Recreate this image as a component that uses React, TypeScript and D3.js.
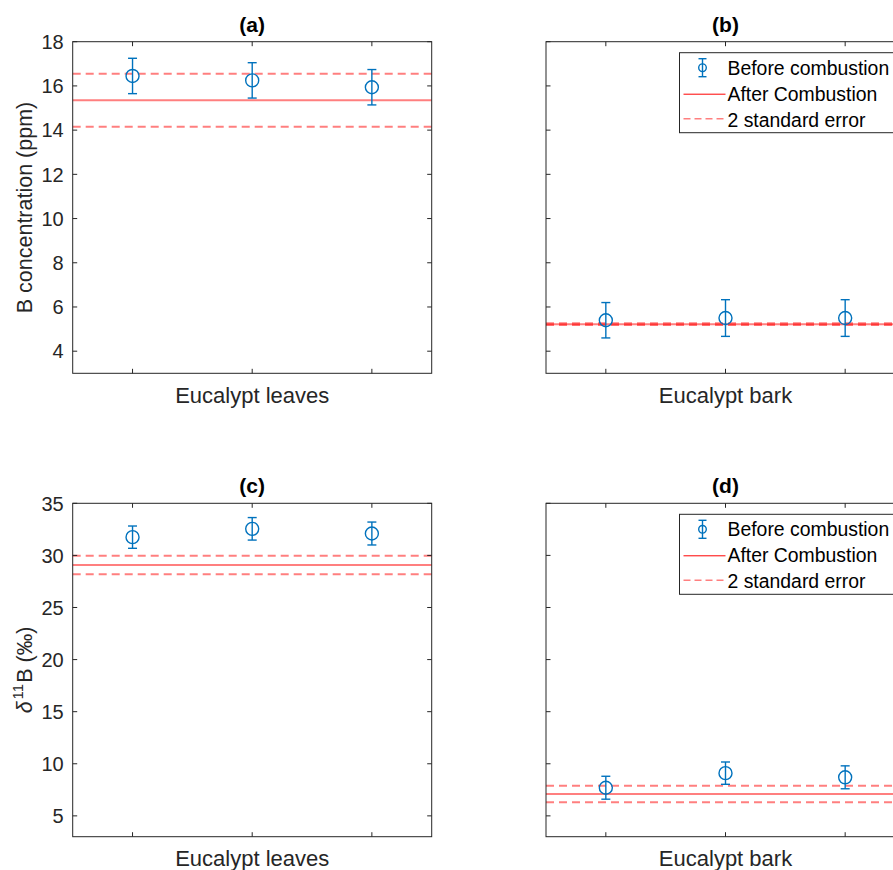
import React from 'react';
import * as d3 from 'd3';

// x positions of the three replicates
const reps = [1, 2, 3];

// (a) B concentration, eucalypt leaves
const leavesB = [16.45, 16.25, 15.94];
const leavesBErr = [0.8, 0.8, 0.8];
const leavesBAfter = 15.35;
const leavesBSE = 1.2;

// (b) B concentration, eucalypt bark
const barkB = [5.4, 5.5, 5.5];
const barkBErr = [0.8, 0.83, 0.83];
const barkBAfter = 5.22;
const barkBSE = 0.04;

// (c) delta11B, eucalypt leaves
const leavesD = [31.75, 32.55, 32.1];
const leavesDErr = [1.07, 1.08, 1.1];
const leavesDAfter = 29.08;
const leavesDSE = 0.89;

// (d) delta11B, eucalypt bark
const barkD = [7.7, 9.1, 8.7];
const barkDErr = [1.1, 1.07, 1.1];
const barkDAfter = 7.1;
const barkDSE = 0.8;

const bTicks = [4, 6, 8, 10, 12, 14, 16, 18];
const dTicks = [5, 10, 15, 20, 25, 30, 35];
const legendLabels = ['Before combustion', 'After Combustion', '2 standard error'];

const FONT = '"Liberation Sans", Arial, Helvetica, sans-serif';
const INK = '#262626';
const BLUE = '#0072BD';

type PanelProps = {
  left: number; top: number; width: number; height: number;
  title: string; xlabel: string;
  domain: [number, number]; ticks: number[]; showTickLabels: boolean;
  vals: number[]; errs: number[]; after: number; se: number;
  legend: boolean; ylabel?: React.ReactNode;
};

const Panel = (p: PanelProps) => {
  const x = d3.scaleLinear().domain([0.5, 3.5]).range([p.left, p.left + p.width]);
  const y = d3.scaleLinear().domain(p.domain).range([p.top + p.height, p.top]);
  const x0 = x(0.5), x1 = x(3.5);
  const tk = 4.5;
  const lx = p.left + 133.5, ly = p.top + 11;
  return (
    <g>
      {/* red reference lines */}
      <line x1={x0} x2={x1} y1={y(p.after)} y2={y(p.after)} stroke="#ff0000" strokeOpacity={0.5} strokeWidth={2} />
      {[p.after + p.se, p.after - p.se].map((v, i) => (
        <line key={i} x1={x0} x2={x1} y1={y(v)} y2={y(v)} stroke="#ff0000" strokeOpacity={0.5}
          strokeWidth={2} strokeDasharray="8,5" />
      ))}
      {/* error bars */}
      {reps.map((r, i) => (
        <g key={r} stroke={BLUE} fill="none" strokeWidth={1.4}>
          <line x1={x(r)} x2={x(r)} y1={y(p.vals[i] + p.errs[i])} y2={y(p.vals[i] - p.errs[i])} />
          <line x1={x(r) - 4.5} x2={x(r) + 4.5} y1={y(p.vals[i] + p.errs[i])} y2={y(p.vals[i] + p.errs[i])} />
          <line x1={x(r) - 4.5} x2={x(r) + 4.5} y1={y(p.vals[i] - p.errs[i])} y2={y(p.vals[i] - p.errs[i])} />
          <circle cx={x(r)} cy={y(p.vals[i])} r={6.5} />
        </g>
      ))}
      {/* box and ticks */}
      <rect x={x0} y={p.top} width={p.width} height={p.height} fill="none" stroke={INK} strokeWidth={1} />
      {p.ticks.map(t => (
        <g key={t}>
          <line x1={x0} x2={x0 + tk} y1={y(t)} y2={y(t)} stroke={INK} />
          <line x1={x1} x2={x1 - tk} y1={y(t)} y2={y(t)} stroke={INK} />
          {p.showTickLabels && (
            <text x={x0 - 9} y={y(t)} dy="0.36em" textAnchor="end" fontSize={20} fill={INK}>{t}</text>
          )}
        </g>
      ))}
      {reps.map(r => (
        <g key={r}>
          <line x1={x(r)} x2={x(r)} y1={p.top + p.height} y2={p.top + p.height - tk} stroke={INK} />
          <line x1={x(r)} x2={x(r)} y1={p.top} y2={p.top + tk} stroke={INK} />
        </g>
      ))}
      <text x={x(2)} y={p.top - 10} textAnchor="middle" fontSize={21} fontWeight="bold" fill="#000">{p.title}</text>
      <text x={x(2)} y={p.top + p.height + 29.5} textAnchor="middle" fontSize={22} fill={INK}>{p.xlabel}</text>
      {p.ylabel && (
        <text transform={`translate(32,${p.top + p.height / 2}) rotate(-90)`} textAnchor="middle" fontSize={21.5} fill={INK}>
          {p.ylabel}
        </text>
      )}
      {p.legend && (
        <g>
          <rect x={lx} y={ly} width={225} height={80} fill="#fff" stroke={INK} strokeWidth={1} />
          <g stroke={BLUE} fill="none" strokeWidth={1.4}>
            <line x1={lx + 23} x2={lx + 23} y1={ly + 6} y2={ly + 24} />
            <line x1={lx + 19} x2={lx + 27} y1={ly + 6} y2={ly + 6} />
            <line x1={lx + 19} x2={lx + 27} y1={ly + 24} y2={ly + 24} />
            <circle cx={lx + 23} cy={ly + 15} r={3.8} />
          </g>
          <line x1={lx + 4} x2={lx + 46} y1={ly + 41.5} y2={ly + 41.5} stroke="#ff0000" strokeWidth={1} />
          <line x1={lx + 4} x2={lx + 46} y1={ly + 66} y2={ly + 66} stroke="#ff0000" strokeOpacity={0.5}
            strokeWidth={1.5} strokeDasharray="7,4" />
          {legendLabels.map((l, i) => (
            <text key={l} x={lx + 48} y={ly + 15 + i * 26} dy="0.36em" fontSize={19.4} fill="#000">{l}</text>
          ))}
        </g>
      )}
    </g>
  );
};

const App = () => {
  const W = 359, H1 = 331.6, H2 = 333.4;
  const dLabel = (
    <>
      <tspan fontStyle="italic">δ</tspan>
      <tspan dy={-9} dx={2} fontSize={15}>11</tspan>
      <tspan dy={9} dx={1}>B (‰)</tspan>
    </>
  );
  return (
    <svg width={893} height={870} style={{ position: 'absolute', left: 0, top: 0, background: '#fff' }}
      fontFamily={FONT}>
      <Panel left={72.7} top={41.7} width={W} height={H1} title="(a)" xlabel="Eucalypt leaves"
        domain={[3, 18]} ticks={bTicks} showTickLabels vals={leavesB} errs={leavesBErr}
        after={leavesBAfter} se={leavesBSE} legend={false} ylabel="B concentration (ppm)" />
      <Panel left={546} top={41.7} width={W} height={H1} title="(b)" xlabel="Eucalypt bark"
        domain={[3, 18]} ticks={bTicks} showTickLabels={false} vals={barkB} errs={barkBErr}
        after={barkBAfter} se={barkBSE} legend />
      <Panel left={72.7} top={503.3} width={W} height={H2} title="(c)" xlabel="Eucalypt leaves"
        domain={[3, 35]} ticks={dTicks} showTickLabels vals={leavesD} errs={leavesDErr}
        after={leavesDAfter} se={leavesDSE} legend={false} ylabel={dLabel} />
      <Panel left={546} top={503.3} width={W} height={H2} title="(d)" xlabel="Eucalypt bark"
        domain={[3, 35]} ticks={dTicks} showTickLabels={false} vals={barkD} errs={barkDErr}
        after={barkDAfter} se={barkDSE} legend />
    </svg>
  );
};

export default App;
